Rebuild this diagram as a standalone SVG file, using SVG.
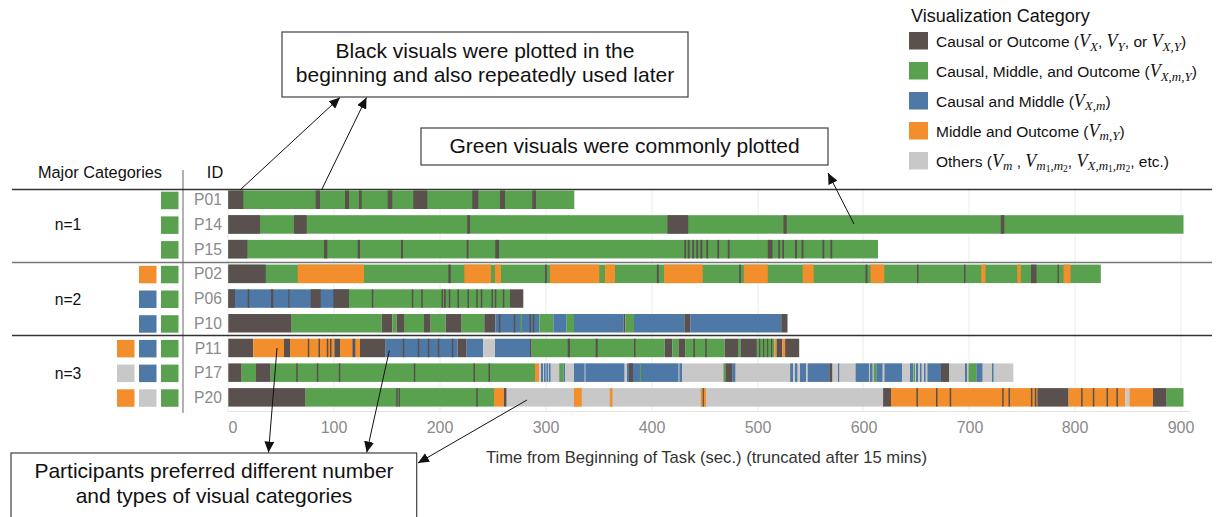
<svg xmlns="http://www.w3.org/2000/svg" width="1216" height="517" viewBox="0 0 1216 517">
<style>
  text { font-family: "Liberation Sans", Arial, sans-serif; }
  .k { fill: #5a504e; }
  .g { fill: #59a14f; }
  .b { fill: #4e79a7; }
  .o { fill: #f28e2b; }
  .s { fill: #c7c8c7; }
  .grid { stroke: #ececec; stroke-width: 1; }
  .sep { stroke: #333; stroke-width: 1.3; }
  .pid { font-size: 15.7px; fill: #8a8a8a; text-anchor: middle; }
  .tick { font-size: 16px; fill: #8a8a8a; text-anchor: middle; }
  .hdr { font-size: 16.3px; fill: #111; }
  .nlab { font-size: 15.7px; fill: #111; text-anchor: middle; }
  .lg { font-size: 15.5px; fill: #111; }
  .mv { font-family: "Liberation Serif", "DejaVu Serif", serif; font-style: italic; font-size: 18px; }
  .ms { font-family: "Liberation Serif", "DejaVu Serif", serif; font-style: italic; font-size: 13px; }
  .mss { font-family: "Liberation Serif", "DejaVu Serif", serif; font-size: 9.5px; }
  .box { fill: #fff; stroke: #404040; stroke-width: 1.2; }
  .note { font-size: 21px; fill: #111; text-anchor: middle; }
  .arr { stroke: #111; stroke-width: 1; fill: none; marker-end: url(#ah); }
</style>
<defs>
  <marker id="ah" viewBox="0 0 11 10" refX="11" refY="5" markerWidth="11" markerHeight="10" markerUnits="userSpaceOnUse" orient="auto">
    <path d="M0,0 L11,5 L0,10 z" fill="#111"/>
  </marker>
</defs>
<rect width="1216" height="517" fill="#fff"/>

<!-- gridlines and frame -->
<g id="grid">
  <line class="grid" x1="228" y1="190" x2="228" y2="412"/>
  <line class="grid" x1="334" y1="190" x2="334" y2="412"/>
  <line class="grid" x1="440" y1="190" x2="440" y2="412"/>
  <line class="grid" x1="546" y1="190" x2="546" y2="412"/>
  <line class="grid" x1="652" y1="190" x2="652" y2="412"/>
  <line class="grid" x1="758" y1="190" x2="758" y2="412"/>
  <line class="grid" x1="863" y1="190" x2="863" y2="412"/>
  <line class="grid" x1="969" y1="190" x2="969" y2="412"/>
  <line class="grid" x1="1075" y1="190" x2="1075" y2="412"/>
  <line class="grid" x1="1181" y1="190" x2="1181" y2="412"/>
  <line x1="228" y1="411.5" x2="1190" y2="411.5" stroke="#e4e4e4" stroke-width="1"/>
  <line x1="183" y1="170" x2="183" y2="413" stroke="#888" stroke-width="1.3"/>
  <line class="sep" x1="12" y1="189.5" x2="1212" y2="189.5"/>
  <line x1="12" y1="262.5" x2="1212" y2="262.5" stroke="#777" stroke-width="1.6"/>
  <line class="sep" x1="12" y1="335.5" x2="1212" y2="335.5"/>
</g>

<!-- headers -->
<g id="headers">
  <text class="hdr" x="100" y="178" text-anchor="middle">Major Categories</text>
  <text class="hdr" x="215" y="178" text-anchor="middle">ID</text>
  <text class="nlab" x="68" y="230">n=1</text>
  <text class="nlab" x="68" y="304.5">n=2</text>
  <text class="nlab" x="68" y="378.5">n=3</text>
</g>

<!-- category swatches -->
<g id="swatches">
  <rect class="g" x="161" y="191.7" width="17.5" height="17.5"/>
  <rect class="g" x="161" y="216.4" width="17.5" height="17.5"/>
  <rect class="g" x="161" y="241.1" width="17.5" height="17.5"/>
  <rect class="g" x="161" y="265.8" width="17.5" height="17.5"/>
  <rect class="o" x="139" y="265.8" width="17.5" height="17.5"/>
  <rect class="g" x="161" y="290.5" width="17.5" height="17.5"/>
  <rect class="b" x="139" y="290.5" width="17.5" height="17.5"/>
  <rect class="g" x="161" y="315.2" width="17.5" height="17.5"/>
  <rect class="b" x="139" y="315.2" width="17.5" height="17.5"/>
  <rect class="g" x="161" y="339.9" width="17.5" height="17.5"/>
  <rect class="b" x="139" y="339.9" width="17.5" height="17.5"/>
  <rect class="o" x="117" y="339.9" width="17.5" height="17.5"/>
  <rect class="g" x="161" y="364.6" width="17.5" height="17.5"/>
  <rect class="b" x="139" y="364.6" width="17.5" height="17.5"/>
  <rect class="s" x="117" y="364.6" width="17.5" height="17.5"/>
  <rect class="g" x="161" y="389.3" width="17.5" height="17.5"/>
  <rect class="s" x="139" y="389.3" width="17.5" height="17.5"/>
  <rect class="o" x="117" y="389.3" width="17.5" height="17.5"/>
</g>

<!-- participant IDs -->
<g id="ids">
  <text class="pid" x="208" y="205.3">P01</text>
  <text class="pid" x="208" y="230">P14</text>
  <text class="pid" x="208" y="254.7">P15</text>
  <text class="pid" x="208" y="279.4">P02</text>
  <text class="pid" x="208" y="304.1">P06</text>
  <text class="pid" x="208" y="328.8">P10</text>
  <text class="pid" x="208" y="353.5">P11</text>
  <text class="pid" x="208" y="378.2">P17</text>
  <text class="pid" x="208" y="402.9">P20</text>
</g>

<!-- P01 -->
<g id="row-P01" transform="translate(0,190.5)">
  <rect class="g" x="228.3" width="346" height="18.5"/>
  <rect class="k" x="228.3" width="15" height="18.5"/>
  <rect class="k" x="315.7" width="4.3" height="18.5"/>
  <rect class="k" x="345" width="4" height="18.5"/>
  <rect class="k" x="359" width="2.7" height="18.5"/>
  <rect class="k" x="387.7" width="4.6" height="18.5"/>
  <rect class="k" x="413.3" width="14" height="18.5"/>
  <rect class="k" x="472.3" width="6" height="18.5"/>
  <rect class="k" x="500" width="5" height="18.5"/>
  <rect class="k" x="532.3" width="3.7" height="18.5"/>
</g>

<!-- P14 -->
<g id="row-P14" transform="translate(0,215.2)">
  <rect class="g" x="228.3" width="955.2" height="18.5"/>
  <rect class="k" x="228.3" width="31.7" height="18.5"/>
  <rect class="k" x="294" width="12.7" height="18.5"/>
  <rect class="k" x="467.3" width="2.7" height="18.5"/>
  <rect class="k" x="667.5" width="20.7" height="18.5"/>
  <rect class="k" x="783.5" width="3.2" height="18.5"/>
  <rect class="k" x="1000.8" width="3.5" height="18.5"/>
</g>

<!-- P15 -->
<g id="row-P15" transform="translate(0,239.9)">
  <rect class="g" x="228.3" width="649.7" height="18.5"/>
  <rect class="k" x="228.3" width="19" height="18.5"/>
  <rect class="k" x="324" width="3.3" height="18.5"/>
  <rect class="k" x="357.7" width="2.3" height="18.5"/>
  <rect class="k" x="401" width="2" height="18.5"/>
  <rect class="k" x="466.7" width="1.8" height="18.5"/>
  <rect class="k" x="495.3" width="3.7" height="18.5"/>
  <rect class="k" x="684.3" width="1.8" height="18.5"/>
  <rect class="k" x="687.8" width="1.8" height="18.5"/>
  <rect class="k" x="692.3" width="1.8" height="18.5"/>
  <rect class="k" x="696.3" width="1.8" height="18.5"/>
  <rect class="k" x="700.3" width="2" height="18.5"/>
  <rect class="k" x="706.3" width="1.8" height="18.5"/>
  <rect class="k" x="717.3" width="1.8" height="18.5"/>
  <rect class="k" x="727.8" width="1.8" height="18.5"/>
  <rect class="k" x="767.8" width="4.7" height="18.5"/>
  <rect class="k" x="778.2" width="1.8" height="18.5"/>
  <rect class="k" x="782.2" width="1.8" height="18.5"/>
  <rect class="k" x="795" width="2" height="18.5"/>
  <rect class="k" x="801.5" width="2" height="18.5"/>
  <rect class="k" x="822.5" width="1.8" height="18.5"/>
  <rect class="k" x="830.4" width="1.8" height="18.5"/>
</g>

<!-- P02 -->
<g id="row-P02" transform="translate(0,264.6)">
  <rect class="g" x="228.3" width="872.5" height="18.5"/>
  <rect class="k" x="228.3" width="37.4" height="18.5"/>
  <rect class="o" x="297.7" width="66.3" height="18.5"/>
  <rect class="k" x="448.3" width="2.4" height="18.5"/>
  <rect class="o" x="464.3" width="26.7" height="18.5"/>
  <rect class="o" x="495" width="6" height="18.5"/>
  <rect class="k" x="545" width="1.8" height="18.5"/>
  <rect class="o" x="550" width="49.3" height="18.5"/>
  <rect class="o" x="605" width="10" height="18.5"/>
  <rect class="k" x="656.9" width="1.9" height="18.5"/>
  <rect class="o" x="664" width="38.7" height="18.5"/>
  <rect class="k" x="739.2" width="1.8" height="18.5"/>
  <rect class="o" x="743.9" width="23.9" height="18.5"/>
  <rect class="o" x="802.7" width="11" height="18.5"/>
  <rect class="k" x="865.5" width="2" height="18.5"/>
  <rect class="o" x="870.6" width="13.7" height="18.5"/>
  <rect class="k" x="917" width="1.5" height="18.5"/>
  <rect class="k" x="964" width="1.5" height="18.5"/>
  <rect class="o" x="981.2" width="4.3" height="18.5"/>
  <rect class="o" x="1017.3" width="3.5" height="18.5"/>
  <rect class="k" x="1031" width="5.5" height="18.5"/>
  <rect class="k" x="1057.5" width="1.5" height="18.5"/>
  <rect class="o" x="1063.5" width="7.1" height="18.5"/>
</g>

<!-- P06 -->
<g id="row-P06" transform="translate(0,289.3)">
  <rect class="b" x="228.3" width="120.7" height="18.5"/>
  <rect class="g" x="349" width="161" height="18.5"/>
  <rect class="k" x="228.3" width="6.7" height="18.5"/>
  <rect class="k" x="247.7" width="1.6" height="18.5"/>
  <rect class="k" x="271" width="2.3" height="18.5"/>
  <rect class="k" x="288.3" width="1.2" height="18.5"/>
  <rect class="k" x="310.7" width="10" height="18.5"/>
  <rect class="k" x="333.3" width="15.7" height="18.5"/>
  <rect class="k" x="371.8" width="1.5" height="18.5"/>
  <rect class="k" x="411.8" width="1.5" height="18.5"/>
  <rect class="k" x="421.2" width="1.5" height="18.5"/>
  <rect class="k" x="441.5" width="1.5" height="18.5"/>
  <rect class="k" x="444" width="1.8" height="18.5"/>
  <rect class="k" x="448.8" width="1.5" height="18.5"/>
  <rect class="k" x="457.5" width="1.5" height="18.5"/>
  <rect class="k" x="467.5" width="1.5" height="18.5"/>
  <rect class="k" x="476.2" width="1.5" height="18.5"/>
  <rect class="k" x="480.8" width="1.5" height="18.5"/>
  <rect class="k" x="491.5" width="1.5" height="18.5"/>
  <rect class="k" x="494.8" width="1.5" height="18.5"/>
  <rect class="k" x="502.8" width="1.5" height="18.5"/>
  <rect class="k" x="510" width="13.3" height="18.5"/>
</g>

<!-- P10 -->
<g id="row-P10" transform="translate(0,314)">
  <rect class="k" x="228.3" width="63.4" height="18.5"/>
  <rect class="g" x="291.7" width="90" height="18.5"/>
  <rect class="k" x="381.7" width="10.6" height="18.5"/>
  <rect class="g" x="392.3" width="4.4" height="18.5"/>
  <rect class="k" x="396.7" width="7.3" height="18.5"/>
  <rect class="g" x="404" width="20" height="18.5"/>
  <rect class="k" x="424" width="6.7" height="18.5"/>
  <rect class="g" x="430.7" width="15" height="18.5"/>
  <rect class="k" x="445.7" width="16" height="18.5"/>
  <rect class="g" x="461.7" width="22.6" height="18.5"/>
  <rect class="k" x="484.3" width="11" height="18.5"/>
  <rect class="b" x="495.3" width="44" height="18.5"/>
  <rect class="k" x="498.8" width="1.6" height="18.5"/>
  <rect class="k" x="513.8" width="1.5" height="18.5"/>
  <rect class="g" x="520.5" width="1.5" height="18.5"/>
  <rect class="k" x="529.5" width="1.5" height="18.5"/>
  <rect class="k" x="532.8" width="1.5" height="18.5"/>
  <rect class="g" x="539.3" width="14" height="18.5"/>
  <rect class="b" x="553.3" width="13.4" height="18.5"/>
  <rect class="g" x="566.7" width="7.3" height="18.5"/>
  <rect class="b" x="574" width="49.5" height="18.5"/>
  <rect class="k" x="623.5" width="2" height="18.5"/>
  <rect class="g" x="625.5" width="8.5" height="18.5"/>
  <rect class="b" x="634" width="50.3" height="18.5"/>
  <rect class="k" x="684.3" width="5.9" height="18.5"/>
  <rect class="b" x="690.2" width="91" height="18.5"/>
  <rect class="k" x="781.2" width="6.3" height="18.5"/>
</g>

<!-- P11 -->
<g id="row-P11" transform="translate(0,338.7)">
  <rect class="k" x="228.3" width="25" height="18.5"/>
  <rect class="o" x="253.3" width="30.7" height="18.5"/>
  <rect class="k" x="284" width="6" height="18.5"/>
  <rect class="o" x="290" width="44.3" height="18.5"/>
  <rect class="k" x="307.8" width="1.5" height="18.5"/>
  <rect class="k" x="318.5" width="1.5" height="18.5"/>
  <rect class="k" x="326.8" width="1.5" height="18.5"/>
  <rect class="k" x="330" width="1.5" height="18.5"/>
  <rect class="k" x="334.3" width="5.7" height="18.5"/>
  <rect class="o" x="340" width="12.3" height="18.5"/>
  <rect class="k" x="352.3" width="3.4" height="18.5"/>
  <rect class="o" x="355.7" width="4.3" height="18.5"/>
  <rect class="k" x="360" width="25.7" height="18.5"/>
  <rect class="b" x="385.7" width="72" height="18.5"/>
  <rect class="k" x="402.8" width="1.5" height="18.5"/>
  <rect class="k" x="417.8" width="1.5" height="18.5"/>
  <rect class="k" x="427.8" width="1.5" height="18.5"/>
  <rect class="k" x="437.8" width="1.5" height="18.5"/>
  <rect class="k" x="451.8" width="1.5" height="18.5"/>
  <rect class="k" x="457.7" width="9" height="18.5"/>
  <rect class="b" x="466.7" width="16.6" height="18.5"/>
  <rect class="s" x="483.3" width="11.7" height="18.5"/>
  <rect class="b" x="495" width="35" height="18.5"/>
  <rect class="k" x="530" width="1.7" height="18.5"/>
  <rect class="g" x="531.7" width="133" height="18.5"/>
  <rect class="k" x="567.7" width="2.3" height="18.5"/>
  <rect class="k" x="595.7" width="2" height="18.5"/>
  <rect class="k" x="634" width="1.5" height="18.5"/>
  <rect class="k" x="664.7" width="7.8" height="18.5"/>
  <rect class="g" x="672.5" width="5.9" height="18.5"/>
  <rect class="k" x="678.4" width="6.7" height="18.5"/>
  <rect class="g" x="685.1" width="39.6" height="18.5"/>
  <rect class="k" x="693.3" width="1.6" height="18.5"/>
  <rect class="k" x="705.2" width="1.6" height="18.5"/>
  <rect class="k" x="724.7" width="13.3" height="18.5"/>
  <rect class="g" x="738" width="2.4" height="18.5"/>
  <rect class="k" x="740.4" width="16.5" height="18.5"/>
  <rect class="g" x="756.9" width="17.6" height="18.5"/>
  <rect class="k" x="759" width="1.2" height="18.5"/>
  <rect class="k" x="763" width="1.2" height="18.5"/>
  <rect class="k" x="767" width="1.2" height="18.5"/>
  <rect class="k" x="771" width="1.2" height="18.5"/>
  <rect class="o" x="774.5" width="2" height="18.5"/>
  <rect class="k" x="776.5" width="5.9" height="18.5"/>
  <rect class="o" x="782.4" width="2.7" height="18.5"/>
  <rect class="k" x="785.1" width="14.1" height="18.5"/>
</g>

<!-- P17 -->
<g id="row-P17" transform="translate(0,363.4)">
  <rect class="k" x="228.3" width="13.4" height="18.5"/>
  <rect class="g" x="241.7" width="14.3" height="18.5"/>
  <rect class="k" x="256" width="14.7" height="18.5"/>
  <rect class="g" x="270.7" width="264.3" height="18.5"/>
  <rect class="k" x="296.2" width="1.5" height="18.5"/>
  <rect class="k" x="316.8" width="1.5" height="18.5"/>
  <rect class="k" x="338.8" width="1.5" height="18.5"/>
  <rect class="k" x="413.8" width="1.5" height="18.5"/>
  <rect class="k" x="473.5" width="1.5" height="18.5"/>
  <rect class="k" x="488.5" width="1.5" height="18.5"/>
  <rect class="o" x="535" width="4.3" height="18.5"/>
  <rect class="s" x="539.3" width="474" height="18.5"/>
  <rect class="b" x="541" width="2" height="18.5"/>
  <rect class="b" x="544" width="1.6" height="18.5"/>
  <rect class="b" x="546.5" width="1.6" height="18.5"/>
  <rect class="b" x="549" width="1.5" height="18.5"/>
  <rect class="g" x="559.3" width="4" height="18.5"/>
  <rect class="b" x="563.5" width="1.5" height="18.5"/>
  <rect class="b" x="574" width="10.5" height="18.5"/>
  <rect class="b" x="585.5" width="38.8" height="18.5"/>
  <rect class="b" x="627" width="51.4" height="18.5"/>
  <rect class="k" x="629" width="4" height="18.5"/>
  <rect class="g" x="639.8" width="1.2" height="18.5"/>
  <rect class="b" x="679.5" width="2.5" height="18.5"/>
  <rect class="g" x="723.5" width="2" height="18.5"/>
  <rect class="k" x="725.5" width="6.7" height="18.5"/>
  <rect class="b" x="732.2" width="3.1" height="18.5"/>
  <rect class="b" x="790.2" width="2.8" height="18.5"/>
  <rect class="b" x="795" width="2.3" height="18.5"/>
  <rect class="b" x="800" width="6" height="18.5"/>
  <rect class="b" x="807.8" width="21.6" height="18.5"/>
  <rect class="k" x="829.4" width="2.8" height="18.5"/>
  <rect class="b" x="838" width="1.2" height="18.5"/>
  <rect class="b" x="855.7" width="13.3" height="18.5"/>
  <rect class="b" x="870" width="2.5" height="18.5"/>
  <rect class="g" x="873.7" width="2.8" height="18.5"/>
  <rect class="b" x="876.5" width="25.5" height="18.5"/>
  <rect class="s" x="882.5" width="2" height="18.5"/>
  <rect class="b" x="910" width="3" height="18.5"/>
  <rect class="g" x="913.5" width="1.5" height="18.5"/>
  <rect class="b" x="916" width="2" height="18.5"/>
  <rect class="b" x="920" width="1.5" height="18.5"/>
  <rect class="b" x="924" width="1.5" height="18.5"/>
  <rect class="b" x="927.5" width="13.5" height="18.5"/>
  <rect class="k" x="941" width="8" height="18.5"/>
  <rect class="b" x="965" width="2" height="18.5"/>
  <rect class="g" x="968.6" width="7.9" height="18.5"/>
  <rect class="b" x="976.5" width="5.9" height="18.5"/>
  <rect class="b" x="992" width="1.5" height="18.5"/>
</g>

<!-- P20 -->
<g id="row-P20" transform="translate(0,388.1)">
  <rect class="k" x="228.3" width="77.4" height="18.5"/>
  <rect class="g" x="305.7" width="188.3" height="18.5"/>
  <rect class="k" x="396.2" width="1.5" height="18.5"/>
  <rect class="k" x="398.7" width="1.3" height="18.5"/>
  <rect class="k" x="476.2" width="1.5" height="18.5"/>
  <rect class="o" x="494" width="10" height="18.5"/>
  <rect class="k" x="504" width="2.7" height="18.5"/>
  <rect class="s" x="506.7" width="376.4" height="18.5"/>
  <rect class="o" x="574" width="7.7" height="18.5"/>
  <rect class="o" x="609.8" width="2.7" height="18.5"/>
  <rect class="o" x="700.8" width="5.1" height="18.5"/>
  <rect class="k" x="702.7" width="1.2" height="18.5"/>
  <rect class="k" x="883.1" width="7.9" height="18.5"/>
  <rect class="o" x="891" width="146.3" height="18.5"/>
  <rect class="k" x="916.4" width="1.5" height="18.5"/>
  <rect class="k" x="936" width="1.5" height="18.5"/>
  <rect class="k" x="949.7" width="1.5" height="18.5"/>
  <rect class="k" x="1002.2" width="1.5" height="18.5"/>
  <rect class="k" x="1008.5" width="1.5" height="18.5"/>
  <rect class="k" x="1030.9" width="1.5" height="18.5"/>
  <rect class="k" x="1034.8" width="1.5" height="18.5"/>
  <rect class="k" x="1037.3" width="31.3" height="18.5"/>
  <rect class="o" x="1068.6" width="56.9" height="18.5"/>
  <rect class="k" x="1081.1" width="1.5" height="18.5"/>
  <rect class="k" x="1092.8" width="1.5" height="18.5"/>
  <rect class="k" x="1106.5" width="1.5" height="18.5"/>
  <rect class="k" x="1116.4" width="1.5" height="18.5"/>
  <rect class="s" x="1125.5" width="3.9" height="18.5"/>
  <rect class="o" x="1129.4" width="23.6" height="18.5"/>
  <rect class="k" x="1153" width="13.7" height="18.5"/>
  <rect class="g" x="1166.7" width="16.8" height="18.5"/>
</g>

<!-- x axis -->
<g id="axis">
  <text class="tick" x="233" y="433">0</text>
  <text class="tick" x="334" y="433">100</text>
  <text class="tick" x="440" y="433">200</text>
  <text class="tick" x="546" y="433">300</text>
  <text class="tick" x="652" y="433">400</text>
  <text class="tick" x="758" y="433">500</text>
  <text class="tick" x="864" y="433">600</text>
  <text class="tick" x="970" y="433">700</text>
  <text class="tick" x="1075" y="433">800</text>
  <text class="tick" x="1181" y="433">900</text>
  <text x="706.5" y="463" font-size="16.6" fill="#333" text-anchor="middle">Time from Beginning of Task (sec.) (truncated after 15 mins)</text>
</g>

<!-- legend -->
<g id="legend">
  <text x="911" y="22" font-size="18" fill="#111">Visualization Category</text>
  <rect class="k" x="909" y="32" width="19" height="17.5"/>
  <rect class="g" x="909" y="62" width="19" height="17.5"/>
  <rect class="b" x="909" y="92" width="19" height="17.5"/>
  <rect class="o" x="909" y="122" width="19" height="17.5"/>
  <rect class="s" x="909" y="152" width="19" height="17.5"/>
  <text class="lg" x="936" y="47">Causal or Outcome (<tspan class="mv">V</tspan><tspan class="ms" dy="3.5">X</tspan><tspan dy="-3.5">, </tspan><tspan class="mv">V</tspan><tspan class="ms" dy="3.5">Y</tspan><tspan dy="-3.5">, or </tspan><tspan class="mv">V</tspan><tspan class="ms" dy="3.5">X,Y</tspan><tspan dy="-3.5">)</tspan></text>
  <text class="lg" x="936" y="77">Causal, Middle, and Outcome (<tspan class="mv">V</tspan><tspan class="ms" dy="3.5">X,m,Y</tspan><tspan dy="-3.5">)</tspan></text>
  <text class="lg" x="936" y="106.5">Causal and Middle (<tspan class="mv">V</tspan><tspan class="ms" dy="3.5">X,m</tspan><tspan dy="-3.5">)</tspan></text>
  <text class="lg" x="936" y="136.5">Middle and Outcome (<tspan class="mv">V</tspan><tspan class="ms" dy="3.5">m,Y</tspan><tspan dy="-3.5">)</tspan></text>
  <text class="lg" x="936" y="166.5">Others (<tspan class="mv">V</tspan><tspan class="ms" dy="3.5">m</tspan><tspan dy="-3.5"> , </tspan><tspan class="mv">V</tspan><tspan class="ms" dy="3.5">m</tspan><tspan class="mss" dy="2">1</tspan><tspan class="ms" dy="-2">,m</tspan><tspan class="mss" dy="2">2</tspan><tspan dy="-5.5">, </tspan><tspan class="mv">V</tspan><tspan class="ms" dy="3.5">X,m</tspan><tspan class="mss" dy="2">1</tspan><tspan class="ms" dy="-2">,m</tspan><tspan class="mss" dy="2">2</tspan><tspan dy="-5.5">, etc.)</tspan></text>
</g>

<!-- annotations -->
<g id="note-black">
  <rect class="box" x="282" y="32" width="406" height="65"/>
  <text class="note" x="485" y="57.5">Black visuals were plotted in the</text>
  <text class="note" x="485" y="82">beginning and also repeatedly used later</text>
</g>
<g id="note-green">
  <rect class="box" x="421" y="128" width="407" height="37"/>
  <text class="note" x="624.5" y="153">Green visuals were commonly plotted</text>
</g>
<g id="note-prefs">
  <rect class="box" x="11" y="453" width="405.7" height="80"/>
  <text class="note" x="214" y="478">Participants preferred different number</text>
  <text class="note" x="214" y="503">and types of visual categories</text>
</g>

<g id="connectors">
  <line class="arr" x1="240" y1="190" x2="340" y2="97.5"/>
  <line class="arr" x1="321.5" y1="190" x2="366.5" y2="97.5"/>
  <line class="arr" x1="854" y1="224" x2="828" y2="173"/>
  <line class="arr" x1="277" y1="348" x2="268.5" y2="452.5"/>
  <line class="arr" x1="389.3" y1="350.5" x2="366.7" y2="452.5"/>
  <line class="arr" x1="527" y1="400" x2="418" y2="463"/>
</g>
</svg>
